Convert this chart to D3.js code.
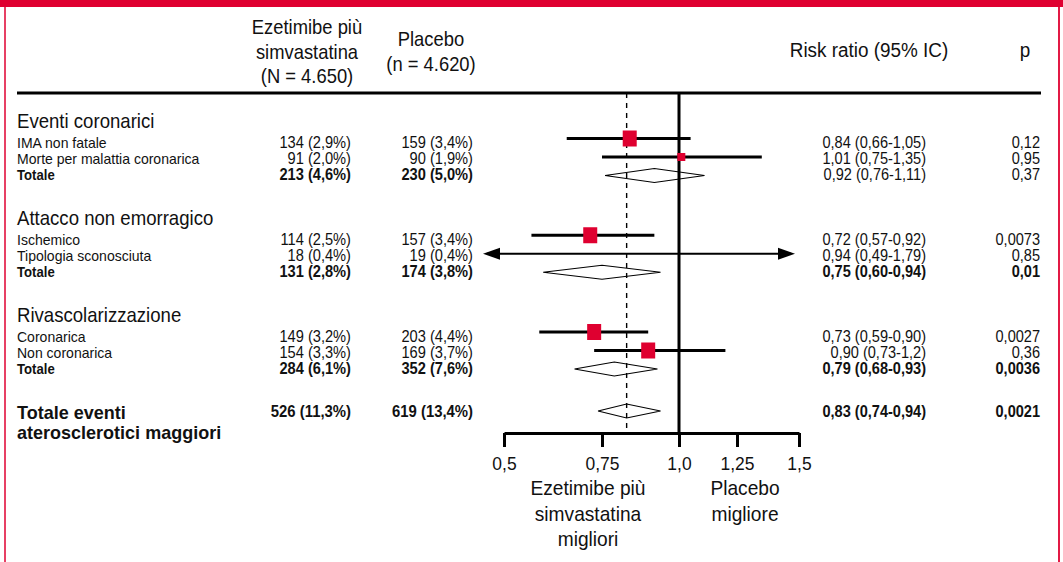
<!DOCTYPE html>
<html>
<head>
<meta charset="utf-8">
<script src="https://cdn.jsdelivr.net/npm/d3@7"></script>
<style>
  html, body { margin: 0; padding: 0; background: #fff; }
  svg { display: block; font-family: "Liberation Sans", Arial, sans-serif; }
</style>
</head>
<body>
<svg id="chart" width="1063" height="562"></svg>
<script>
// ---- Data -------------------------------------------------------------
const groupNames = ["Eventi coronarici", "Attacco non emorragico", "Rivascolarizzazione"];
const rowGroup = [0, 0, 0, 1, 1, 1, 2, 2, 2];
const rowLabels = [
  "IMA non fatale", "Morte per malattia coronarica", "Totale",
  "Ischemico", "Tipologia sconosciuta", "Totale",
  "Coronarica", "Non coronarica", "Totale"
];
const rowIsTotal = [false, false, true, false, false, true, false, false, true];
const ezeEvents = [134, 91, 213, 114, 18, 131, 149, 154, 284];
const ezePct = ["2,9", "2,0", "4,6", "2,5", "0,4", "2,8", "3,2", "3,3", "6,1"];
const placeboEvents = [159, 90, 230, 157, 19, 174, 203, 169, 352];
const placeboPct = ["3,4", "1,9", "5,0", "3,4", "0,4", "3,8", "4,4", "3,7", "7,6"];
const rrEst = ["0,84", "1,01", "0,92", "0,72", "0,94", "0,75", "0,73", "0,90", "0,79"];
const rrLow = ["0,66", "0,75", "0,76", "0,57", "0,49", "0,60", "0,59", "0,73", "0,68"];
const rrHigh = ["1,05", "1,35", "1,11", "0,92", "1,79", "0,94", "0,90", "1,2", "0,93"];
const pValues = ["0,12", "0,95", "0,37", "0,0073", "0,85", "0,01", "0,0027", "0,36", "0,0036"];

const overallLabel = ["Totale eventi", "aterosclerotici maggiori"];
const overallEze = [526, "11,3"];
const overallPlacebo = [619, "13,4"];
const overallRR = ["0,83", "0,74", "0,94"];
const overallP = "0,0021";

const tickValues = [0.5, 0.75, 1, 1.25, 1.5];
const tickLabels = ["0,5", "0,75", "1,0", "1,25", "1,5"];

const ezeHeader = ["Ezetimibe più", "simvastatina", "(N = 4.650)"];
const placeboHeader = ["Placebo", "(n = 4.620)"];
const rrHeader = "Risk ratio (95% IC)";
const pHeader = "p";
const favoursLeft = ["Ezetimibe più", "simvastatina", "migliori"];
const favoursRight = ["Placebo", "migliore"];

// ---- Helpers ----------------------------------------------------------
const num = s => +String(s).replace(",", ".");
const RED = "#df0030";
const INK = "#111";

const svg = d3.select("#chart");

// condensed-looking text: a regular face squeezed horizontally
function text(x, y, s, size, opts = {}) {
  const sx = opts.sx || 0.93;
  return svg.append("text")
    .attr("transform", `translate(${x},${y}) scale(${sx},1)`)
    .attr("font-size", size)
    .attr("font-weight", opts.bold ? "bold" : "normal")
    .attr("text-anchor", opts.anchor || "start")
    .attr("fill", INK)
    .text(s);
}

// ---- Layout -----------------------------------------------------------
const axisY = 433;
const ruleY = 93;
const firstRowBase = 148;
const groupStep = 96.75;
const rowStep = 16;
const markerStep = 18.5;

const x = d3.scaleLinear()
  .domain(tickValues)
  .range([504, 602, 679, 737, 799]);

const withinIndex = rowGroup.map((g, i) => i - rowGroup.indexOf(g));
const rowBase = rowGroup.map((g, i) => firstRowBase + g * groupStep + withinIndex[i] * rowStep);
const markerY = rowGroup.map((g, i) => {
  const mid = firstRowBase + g * groupStep + rowStep - 7;
  return mid + (withinIndex[i] - 1) * markerStep;
});
const boxSide = d3.scaleThreshold().domain([200]).range([8, 14]);

// ---- Frame ------------------------------------------------------------
svg.append("rect").attr("x", 0).attr("y", 0).attr("width", 1063).attr("height", 7).attr("fill", RED);
svg.append("line").attr("x1", 5).attr("x2", 5).attr("y1", 0).attr("y2", 562)
  .attr("stroke", RED).attr("stroke-width", 1.5);
svg.append("line").attr("x1", 1059).attr("x2", 1059).attr("y1", 0).attr("y2", 562)
  .attr("stroke", RED).attr("stroke-width", 1.8);

// ---- Column headers ---------------------------------------------------
ezeHeader.forEach((s, i) => text(307, 34 + i * 24.5, s, 20, { anchor: "middle", sx: 0.92 }));
placeboHeader.forEach((s, i) => text(431, 46 + i * 25, s, 20, { anchor: "middle", sx: 0.92 }));
text(869, 57, rrHeader, 20, { anchor: "middle", sx: 0.945 });
text(1025, 57, pHeader, 20, { anchor: "middle", sx: 0.945 });

svg.append("line").attr("x1", 17).attr("x2", 1041).attr("y1", ruleY).attr("y2", ruleY)
  .attr("stroke", "#000").attr("stroke-width", 3);

// ---- Group headings and rows -----------------------------------------
groupNames.forEach((g, gi) => text(17, firstRowBase + gi * groupStep - 20, g, 20, { sx: 0.93 }));

rowLabels.forEach((lab, i) => {
  const y = rowBase[i];
  const tot = rowIsTotal[i];
  const strong = tot && num(pValues[i]) < 0.05;
  if (tot) text(17, y, lab, 14.5, { bold: true, sx: 0.906 });
  else text(17, y, lab, 15, { sx: 0.935 });
  text(351, y, `${ezeEvents[i]} (${ezePct[i]}%)`, 16, { bold: tot, anchor: "end", sx: 0.915 });
  text(473, y, `${placeboEvents[i]} (${placeboPct[i]}%)`, 16, { bold: tot, anchor: "end", sx: 0.915 });
  text(926, y, `${rrEst[i]} (${rrLow[i]}-${rrHigh[i]})`, 16, { bold: strong, anchor: "end", sx: 0.91 });
  text(1040, y, pValues[i], 16, { bold: strong, anchor: "end", sx: 0.91 });
});

// Overall row
const overallBase = 417;
text(17, 418.5, overallLabel[0], 17.5, { bold: true, sx: 1.03 });
text(17, 438.5, overallLabel[1], 17.5, { bold: true, sx: 1.03 });
text(351, overallBase, `${overallEze[0]} (${overallEze[1]}%)`, 16, { bold: true, anchor: "end", sx: 0.93 });
text(473, overallBase, `${overallPlacebo[0]} (${overallPlacebo[1]}%)`, 16, { bold: true, anchor: "end", sx: 0.93 });
text(926, overallBase, `${overallRR[0]} (${overallRR[1]}-${overallRR[2]})`, 16, { bold: true, anchor: "end", sx: 0.91 });
text(1040, overallBase, overallP, 16, { bold: true, anchor: "end", sx: 0.91 });

// ---- Forest plot ------------------------------------------------------
const plot = svg.append("g");
const [dMin, dMax] = d3.extent(tickValues);
const diamondHalf = 7;

function diamond(lo, est, hi, y) {
  plot.append("path")
    .attr("d", `M${x(lo)},${y}L${x(est)},${y - diamondHalf}L${x(hi)},${y}L${x(est)},${y + diamondHalf}Z`)
    .attr("fill", "none").attr("stroke", "#000").attr("stroke-width", 1.2);
}

rowLabels.forEach((_, i) => {
  if (rowIsTotal[i]) diamond(num(rrLow[i]), num(rrEst[i]), num(rrHigh[i]), markerY[i]);
});
diamond(num(overallRR[1]), num(overallRR[0]), num(overallRR[2]), overallBase - 6);

// reference lines: overall effect (dashed) and no effect (solid)
plot.append("line")
  .attr("x1", x(num(overallRR[0]))).attr("x2", x(num(overallRR[0])))
  .attr("y1", ruleY).attr("y2", axisY)
  .attr("stroke", "#000").attr("stroke-width", 1.4).attr("stroke-dasharray", "5,5");
plot.append("line")
  .attr("x1", x(1)).attr("x2", x(1)).attr("y1", ruleY).attr("y2", axisY)
  .attr("stroke", "#000").attr("stroke-width", 3);

// confidence intervals and point estimates
rowLabels.forEach((_, i) => {
  if (rowIsTotal[i]) return;
  const lo = num(rrLow[i]), hi = num(rrHigh[i]), est = num(rrEst[i]);
  const y = markerY[i];
  if (lo < dMin || hi > dMax) {
    // interval wider than the axis: double arrow
    const xl = x(dMin) - 21, xr = x(dMax) - 4, len = 17, hh = 6;
    plot.append("line").attr("x1", xl + 4).attr("x2", xr - 4).attr("y1", y).attr("y2", y)
      .attr("stroke", "#000").attr("stroke-width", 2);
    plot.append("path").attr("d", `M${xl},${y}L${xl + len},${y - hh}L${xl + len},${y + hh}Z`).attr("fill", "#000");
    plot.append("path").attr("d", `M${xr},${y}L${xr - len},${y - hh}L${xr - len},${y + hh}Z`).attr("fill", "#000");
    return;
  }
  plot.append("line").attr("x1", x(lo)).attr("x2", x(hi)).attr("y1", y).attr("y2", y)
    .attr("stroke", "#000").attr("stroke-width", 3);
  const s = boxSide(ezeEvents[i] + placeboEvents[i]);
  const h = s + (s > 10 ? 2 : 0);
  plot.append("rect")
    .attr("x", x(est) - s / 2).attr("y", y - h / 2)
    .attr("width", s).attr("height", h)
    .attr("fill", RED);
});

// ---- Axis -------------------------------------------------------------
const axis = svg.append("g")
  .attr("transform", `translate(0,${axisY})`)
  .call(d3.axisBottom(x)
    .tickValues(tickValues)
    .tickFormat((d, i) => tickLabels[i])
    .tickSize(14)
    .tickSizeOuter(0)
    .tickPadding(10));
axis.select(".domain").attr("stroke", "#000").attr("stroke-width", 3);
axis.selectAll(".tick line").attr("stroke", "#000").attr("stroke-width", 3);
axis.selectAll(".tick text")
  .attr("font-size", 19)
  .attr("font-family", "'Liberation Sans', Arial, sans-serif")
  .attr("transform", "scale(0.92,1)")
  .attr("fill", INK);

favoursLeft.forEach((s, i) => text(588, 495 + i * 25.5, s, 20.5, { anchor: "middle", sx: 0.935 }));
favoursRight.forEach((s, i) => text(745, 495 + i * 25.5, s, 20.5, { anchor: "middle", sx: 0.935 }));
</script>
</body>
</html>
